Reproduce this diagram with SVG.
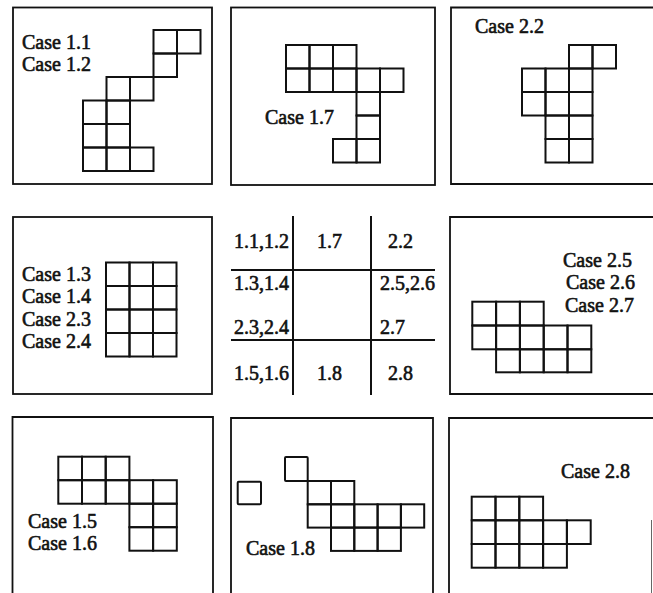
<svg xmlns="http://www.w3.org/2000/svg" width="653" height="593" viewBox="0 0 653 593">
<style>
.frame{fill:none;stroke:#111;stroke-width:1.8}
.c{fill:none;stroke:#111;stroke-width:2}
.t{font-family:"Liberation Serif","Times New Roman",serif;font-size:20px;fill:#111;stroke:#111;stroke-width:0.6}
.n{font-family:"Liberation Serif","Times New Roman",serif;font-size:20px;fill:#111;stroke:#111;stroke-width:0.6}
.ln{stroke:#111;stroke-width:2;fill:none}
</style>
<rect width="653" height="593" fill="#fff"/>

<g id="case-1-1">
<rect class="frame" x="13" y="7.5" width="199" height="176.5"/>
<rect class="c" x="153.5" y="30" width="23.5" height="23.5"/>
<rect class="c" x="177" y="30" width="23.5" height="23.5"/>
<rect class="c" x="153.5" y="53.5" width="23.5" height="23.5"/>
<rect class="c" x="106.5" y="77" width="23.5" height="23.5"/>
<rect class="c" x="130" y="77" width="23.5" height="23.5"/>
<rect class="c" x="83" y="100.5" width="23.5" height="23.5"/>
<rect class="c" x="106.5" y="100.5" width="23.5" height="23.5"/>
<rect class="c" x="83" y="124" width="23.5" height="23.5"/>
<rect class="c" x="106.5" y="124" width="23.5" height="23.5"/>
<rect class="c" x="83" y="147.5" width="23.5" height="23.5"/>
<rect class="c" x="106.5" y="147.5" width="23.5" height="23.5"/>
<rect class="c" x="130" y="147.5" width="23.5" height="23.5"/>
<text class="t" x="22" y="49">Case 1.1</text>
<text class="t" x="22" y="71">Case 1.2</text>
</g>

<g id="case-1-7">
<rect class="frame" x="231" y="7.5" width="204" height="177.5"/>
<rect class="c" x="286" y="45" width="23.5" height="23.5"/>
<rect class="c" x="309.5" y="45" width="23.5" height="23.5"/>
<rect class="c" x="333" y="45" width="23.5" height="23.5"/>
<rect class="c" x="286" y="68.5" width="23.5" height="23.5"/>
<rect class="c" x="309.5" y="68.5" width="23.5" height="23.5"/>
<rect class="c" x="333" y="68.5" width="23.5" height="23.5"/>
<rect class="c" x="356.5" y="68.5" width="23.5" height="23.5"/>
<rect class="c" x="380" y="68.5" width="23.5" height="23.5"/>
<rect class="c" x="356.5" y="92" width="23.5" height="23.5"/>
<rect class="c" x="356.5" y="115.5" width="23.5" height="23.5"/>
<rect class="c" x="333" y="139" width="23.5" height="23.5"/>
<rect class="c" x="356.5" y="139" width="23.5" height="23.5"/>
<text class="t" x="265" y="124">Case 1.7</text>
</g>

<g id="case-2-2">
<path class="frame" d="M653,7.5 H451 V184 H653"/>
<rect class="c" x="569" y="45" width="23.5" height="23.5"/>
<rect class="c" x="592.5" y="45" width="23.5" height="23.5"/>
<rect class="c" x="522" y="68.5" width="23.5" height="23.5"/>
<rect class="c" x="545.5" y="68.5" width="23.5" height="23.5"/>
<rect class="c" x="569" y="68.5" width="23.5" height="23.5"/>
<rect class="c" x="522" y="92" width="23.5" height="23.5"/>
<rect class="c" x="545.5" y="92" width="23.5" height="23.5"/>
<rect class="c" x="569" y="92" width="23.5" height="23.5"/>
<rect class="c" x="545.5" y="115.5" width="23.5" height="23.5"/>
<rect class="c" x="569" y="115.5" width="23.5" height="23.5"/>
<rect class="c" x="545.5" y="139" width="23.5" height="23.5"/>
<rect class="c" x="569" y="139" width="23.5" height="23.5"/>
<text class="t" x="475" y="33">Case 2.2</text>
</g>

<g id="case-1-3">
<rect class="frame" x="13" y="217" width="199" height="177"/>
<rect class="c" x="106" y="262.5" width="23.5" height="23.5"/>
<rect class="c" x="129.5" y="262.5" width="23.5" height="23.5"/>
<rect class="c" x="153" y="262.5" width="23.5" height="23.5"/>
<rect class="c" x="106" y="286" width="23.5" height="23.5"/>
<rect class="c" x="129.5" y="286" width="23.5" height="23.5"/>
<rect class="c" x="153" y="286" width="23.5" height="23.5"/>
<rect class="c" x="106" y="309.5" width="23.5" height="23.5"/>
<rect class="c" x="129.5" y="309.5" width="23.5" height="23.5"/>
<rect class="c" x="153" y="309.5" width="23.5" height="23.5"/>
<rect class="c" x="106" y="333" width="23.5" height="23.5"/>
<rect class="c" x="129.5" y="333" width="23.5" height="23.5"/>
<rect class="c" x="153" y="333" width="23.5" height="23.5"/>
<text class="t" x="22" y="281">Case 1.3</text>
<text class="t" x="22" y="303">Case 1.4</text>
<text class="t" x="22" y="326">Case 2.3</text>
<text class="t" x="22" y="348">Case 2.4</text>
</g>

<g id="index-table">
<path class="ln" d="M293,216 V395 M371,216 V395 M231,270 H435 M231,340 H435"/>
<text class="n" x="234" y="248">1.1,1.2</text>
<text class="n" x="317" y="248">1.7</text>
<text class="n" x="388" y="248">2.2</text>
<text class="n" x="234" y="290">1.3,1.4</text>
<text class="n" x="380" y="290">2.5,2.6</text>
<text class="n" x="234" y="334">2.3,2.4</text>
<text class="n" x="380" y="334">2.7</text>
<text class="n" x="234" y="380">1.5,1.6</text>
<text class="n" x="317" y="380">1.8</text>
<text class="n" x="388" y="380">2.8</text>
</g>

<g id="case-2-5">
<path class="frame" d="M653,217 H450 V394 H653"/>
<rect class="c" x="472.3" y="301.7" width="23.8" height="23.8"/>
<rect class="c" x="496.1" y="301.7" width="23.8" height="23.8"/>
<rect class="c" x="519.9" y="301.7" width="23.8" height="23.8"/>
<rect class="c" x="472.3" y="325.5" width="23.8" height="23.8"/>
<rect class="c" x="496.1" y="325.5" width="23.8" height="23.8"/>
<rect class="c" x="519.9" y="325.5" width="23.8" height="23.8"/>
<rect class="c" x="543.7" y="325.5" width="23.8" height="23.8"/>
<rect class="c" x="567.5" y="325.5" width="23.8" height="23.8"/>
<rect class="c" x="496.1" y="349.3" width="23.8" height="23"/>
<rect class="c" x="519.9" y="349.3" width="23.8" height="23"/>
<rect class="c" x="543.7" y="349.3" width="23.8" height="23"/>
<rect class="c" x="567.5" y="349.3" width="23.8" height="23"/>
<text class="t" x="563" y="267">Case 2.5</text>
<text class="t" x="566" y="289">Case 2.6</text>
<text class="t" x="565" y="312">Case 2.7</text>
</g>

<g id="case-1-5">
<path class="frame" d="M12.5,593 V417 H213 V593"/>
<rect class="c" x="58.3" y="456.7" width="23.7" height="23.5"/>
<rect class="c" x="82" y="456.7" width="23.7" height="23.5"/>
<rect class="c" x="105.7" y="456.7" width="23.7" height="23.5"/>
<rect class="c" x="58.3" y="480.2" width="23.7" height="23.5"/>
<rect class="c" x="82" y="480.2" width="23.7" height="23.5"/>
<rect class="c" x="105.7" y="480.2" width="23.7" height="23.5"/>
<rect class="c" x="129.4" y="480.2" width="23.7" height="23.5"/>
<rect class="c" x="153.1" y="480.2" width="23.7" height="23.5"/>
<rect class="c" x="129.4" y="503.7" width="23.7" height="23.5"/>
<rect class="c" x="153.1" y="503.7" width="23.7" height="23.5"/>
<rect class="c" x="129.4" y="527.2" width="23.7" height="23.5"/>
<rect class="c" x="153.1" y="527.2" width="23.7" height="23.5"/>
<text class="t" x="28" y="528">Case 1.5</text>
<text class="t" x="28" y="550">Case 1.6</text>
</g>

<g id="case-1-8">
<path class="frame" d="M231,593 V418 H433 V593"/>
<rect class="c" x="237.7" y="481.7" width="23.3" height="22.6" rx="1"/>
<rect class="c" x="285" y="457" width="22.7" height="24" rx="1"/>
<rect class="c" x="307.7" y="481" width="23.3" height="23.3"/>
<rect class="c" x="331" y="481" width="23.3" height="23.3"/>
<rect class="c" x="307.7" y="504.3" width="23.3" height="23.3"/>
<rect class="c" x="331" y="504.3" width="23.3" height="23.3"/>
<rect class="c" x="354.3" y="504.3" width="23.3" height="23.3"/>
<rect class="c" x="377.6" y="504.3" width="23.3" height="23.3"/>
<rect class="c" x="400.9" y="504.3" width="23.3" height="23.3"/>
<rect class="c" x="331" y="527.6" width="23.3" height="23.3"/>
<rect class="c" x="354.3" y="527.6" width="23.3" height="23.3"/>
<rect class="c" x="377.6" y="527.6" width="23.3" height="23.3"/>
<text class="t" x="246" y="555">Case 1.8</text>
</g>

<g id="case-2-8">
<path class="frame" d="M653,418 H449 V593"/>
<path d="M651.5,520 V593" stroke="#666" stroke-width="1" fill="none"/>
<rect class="c" x="471.7" y="496.7" width="23.8" height="23.6"/>
<rect class="c" x="495.5" y="496.7" width="23.8" height="23.6"/>
<rect class="c" x="519.3" y="496.7" width="23.8" height="23.6"/>
<rect class="c" x="471.7" y="520.3" width="23.8" height="23.7"/>
<rect class="c" x="495.5" y="520.3" width="23.8" height="23.7"/>
<rect class="c" x="519.3" y="520.3" width="23.8" height="23.7"/>
<rect class="c" x="543.1" y="520.3" width="23.8" height="23.7"/>
<rect class="c" x="566.9" y="520.3" width="23.8" height="23.7"/>
<rect class="c" x="471.7" y="544" width="23.8" height="23.7"/>
<rect class="c" x="495.5" y="544" width="23.8" height="23.7"/>
<rect class="c" x="519.3" y="544" width="23.8" height="23.7"/>
<rect class="c" x="543.1" y="544" width="23.8" height="23.7"/>
<text class="t" x="561" y="478">Case 2.8</text>
</g>
</svg>
